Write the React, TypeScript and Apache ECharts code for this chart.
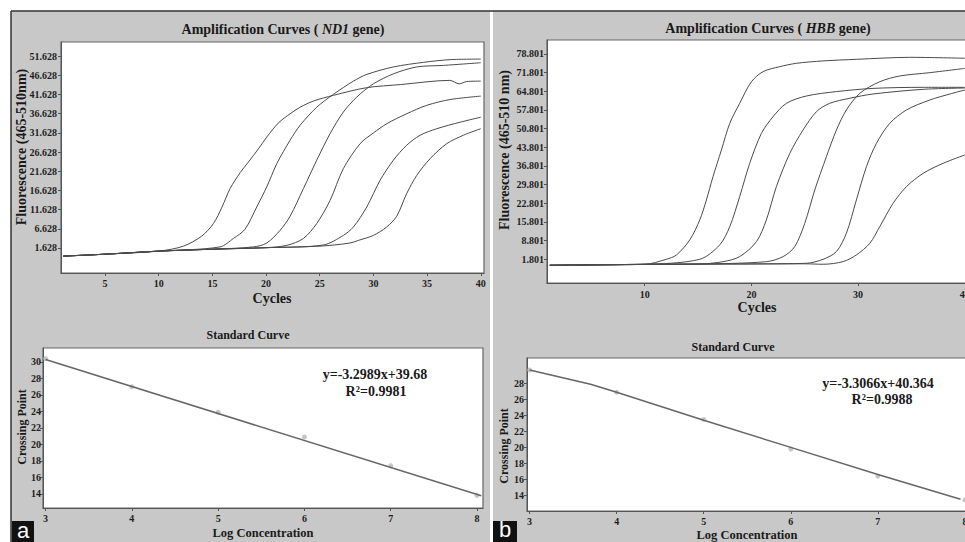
import React, { useEffect, useRef } from "react";
import * as echarts from "echarts";

// ---------- Amplification curves, ND1 gene (panel a) ----------
const ND1_BASELINE: number[][] = [[1.1, -0.5], [5, 0], [10, 0.8], [15, 1.3], [20, 1.7], [25, 2.1]];
const ND1_CURVE_1: number[][] = [[12.3, 2.1], [14.0, 4.7], [15.1, 8.0], [15.9, 12.3], [16.65, 17.1], [17.6, 21.3], [18.35, 24.0], [19.3, 27.5], [20.06, 30.5], [21.15, 34.2], [22.24, 36.6], [23.17, 38.3], [24.4, 39.9], [26.27, 41.4], [29.38, 43.4], [32.5, 44.2], [37.1, 45.3], [38.0, 44.4], [38.7, 45.0], [40, 45.1]];
const ND1_CURVE_2: number[][] = [[15.71, 1.9], [16.96, 4.1], [18.04, 6.5], [19.13, 12.3], [20.06, 17.5], [21.0, 23.6], [22.24, 29.7], [23.17, 33.6], [24.72, 38.3], [26.27, 41.65], [28.14, 45.1], [29.38, 46.85], [31.86, 48.8], [34.66, 50.0], [37.14, 50.7], [40, 50.85]];
const ND1_CURVE_3: number[][] = [[18.82, 1.9], [20.06, 2.9], [21.3, 6.2], [22.24, 9.9], [23.48, 17.1], [24.72, 24.5], [25.96, 31.4], [27.2, 37.05], [28.45, 40.95], [30.0, 44.4], [31.86, 47.0], [34.04, 48.8], [36.52, 49.2], [40, 49.9]];
const ND1_CURVE_4: number[][] = [[21.93, 2.3], [23.48, 4.1], [24.72, 8.0], [25.96, 14.0], [27.2, 22.3], [28.76, 28.8], [30.0, 31.6], [31.24, 34.0], [33.1, 36.6], [34.97, 38.8], [37.14, 40.3], [40, 41.2]];
const ND1_CURVE_5: number[][] = [[25.34, 2.4], [27.2, 4.9], [28.14, 7.1], [29.38, 12.3], [30.62, 19.25], [31.86, 24.5], [33.1, 28.4], [34.35, 31.0], [35.9, 32.7], [38.07, 34.4], [40, 35.7]];
const ND1_CURVE_6: number[][] = [[27.8, 2.9], [28.6, 3.6], [30.0, 4.9], [31.24, 7.1], [32.17, 9.9], [33.1, 15.8], [34.04, 20.55], [35.28, 24.9], [36.83, 28.8], [38.38, 31.0], [40, 32.7]];
const ND1_Y_TICKS = [1.628, 6.628, 11.628, 16.628, 21.628, 26.628, 31.628, 36.628, 41.628, 46.628, 51.628];
const ND1_X_TICKS = [5, 10, 15, 20, 25, 30, 35, 40];

// ---------- Amplification curves, HBB gene (panel b) ----------
const HBB_BASELINE: number[][] = [[1.1, -0.45], [5, -0.3], [10, -0.1], [15, 0], [20, 0.05], [25, 0.1]];
const HBB_CURVE_1: number[][] = [[12.03, 1.8], [12.97, 3.4], [14.22, 9.05], [15.16, 16.55], [15.78, 24.05], [16.4, 32.8], [17.19, 42.8], [17.97, 52.8], [18.9, 60.3], [20.0, 68.4], [21.1, 72.2], [22.66, 74.05], [24.2, 75.3], [26.7, 76.2], [29.84, 76.8], [34.84, 77.55], [40, 77.2]];
const HBB_CURVE_2: number[][] = [[15.16, 1.8], [17.03, 7.2], [17.97, 14.05], [18.9, 25.3], [19.84, 37.8], [20.94, 49.05], [22.03, 55.3], [23.28, 60.3], [25.16, 63.05], [27.97, 64.7], [31.4, 65.9], [36.1, 66.3], [40, 66.3]];
const HBB_CURVE_3: number[][] = [[17.34, 0.9], [18.9, 2.8], [20.47, 8.4], [21.4, 16.55], [22.34, 29.05], [23.6, 41.55], [24.84, 50.3], [26.1, 57.2], [27.34, 60.3], [29.22, 62.2], [31.4, 63.8], [36.1, 65.55], [40, 66.05]];
const HBB_CURVE_4: number[][] = [[21.4, 0.9], [22.97, 2.8], [24.06, 6.55], [25.0, 15.3], [25.94, 27.8], [27.03, 40.3], [27.97, 50.3], [28.9, 57.8], [30.16, 64.05], [32.03, 68.4], [33.9, 70.55], [36.72, 71.8], [40, 73.4]];
const HBB_CURVE_5: number[][] = [[25.16, 0.3], [26.72, 1.8], [27.97, 4.7], [28.9, 11.55], [29.84, 24.05], [30.78, 36.55], [31.72, 45.3], [32.97, 52.8], [34.53, 57.8], [36.72, 61.55], [38.6, 63.8], [40, 65.3]];
const HBB_CURVE_6: number[][] = [[26.72, -0.07], [28.6, 0.93], [29.84, 3.43], [31.1, 7.8], [32.03, 14.05], [33.28, 22.8], [34.53, 29.05], [36.1, 34.05], [37.97, 37.8], [40, 40.93]];
const HBB_Y_TICKS = [1.801, 8.801, 15.801, 22.801, 29.801, 36.801, 43.801, 50.801, 57.801, 64.801, 71.801, 78.801];
const HBB_X_TICKS = [10, 20, 30, 40];

// ---------- Standard curves ----------
const STD_A_POINTS: number[][] = [[3, 30.4], [4, 27.0], [5, 23.9], [6, 20.9], [7, 17.4], [8, 13.8]];
const STD_A_LINE: number[][] = [[3, 30.3], [8.05, 13.75]];
const STD_A_Y_TICKS = [14, 16, 18, 20, 22, 24, 26, 28, 30];
const STD_B_POINTS: number[][] = [[3, 29.7], [4, 26.9], [5, 23.5], [6, 19.8], [7, 16.4], [8, 13.4]];
const STD_B_LINE: number[][] = [[3, 29.7], [3.7, 27.9], [4, 26.9], [5, 23.4], [6, 20.0], [7, 16.6], [7.95, 13.5]];
const STD_B_Y_TICKS = [14, 16, 18, 20, 22, 24, 26, 28];
const STD_X_TICKS = [3, 4, 5, 6, 7, 8];

const SERIF = "'Liberation Serif', 'Times New Roman', serif";
const PANEL_GRAY = "#c8c8c8";
const CURVE_COLOR = "#4a4a4a";

function withBase(base: number[][], curve: number[][]) {
  return base.filter((p) => p[0] < curve[0][0] - 1.5).concat(curve);
}

function valueAxis(gridIndex: number, min: number, max: number, ticks: number[], digits: number, fontSize: number, margin: number) {
  return {
    type: "value",
    gridIndex,
    min,
    max,
    axisLine: { show: true, onZero: false, lineStyle: { color: "#555", width: 1 } },
    axisTick: { show: true, customValues: ticks, length: 3, lineStyle: { color: "#555" } },
    axisLabel: {
      customValues: ticks,
      formatter: (v: number) => v.toFixed(digits),
      fontFamily: SERIF,
      fontWeight: "bold",
      fontSize,
      color: "#1e1e1e",
      margin,
    },
    splitLine: { show: false },
  };
}

function curveSeries(data: number[][], axisIndex: number) {
  return {
    type: "line",
    xAxisIndex: axisIndex,
    yAxisIndex: axisIndex,
    data,
    smooth: 0.3,
    showSymbol: false,
    lineStyle: { color: CURVE_COLOR, width: 1 },
    silent: true,
  };
}

function text(x: number, y: number, content: string, size: number, extra: any = {}) {
  return {
    type: "text",
    x,
    y,
    ...extra,
    style: {
      text: content,
      fontFamily: SERIF,
      fontWeight: "bold",
      fontSize: size,
      fill: "#1a1a1a",
      align: "center",
      verticalAlign: "middle",
      ...(extra.style || {}),
    },
  };
}

function titleText(x: number, y: number, gene: string) {
  const base = { fontFamily: SERIF, fontWeight: "bold", fontSize: 14, fill: "#1a1a1a" };
  return {
    type: "text",
    x,
    y,
    style: {
      text: `{b|Amplification Curves ( }{i|${gene}}{b| gene)}`,
      align: "center",
      verticalAlign: "middle",
      rich: { b: base, i: { ...base, fontStyle: "italic" } },
    },
  };
}

export default function App() {
  const ref = useRef<HTMLDivElement>(null);
  useEffect(() => {
    if (!ref.current) return;
    const chart = echarts.init(ref.current, null, { renderer: "svg" });
    const option: any = {
      animation: false,
      backgroundColor: "#ffffff",
      grid: [
        { left: 61, top: 42, width: 423, height: 231, show: true, backgroundColor: "#fff", borderColor: "#666", borderWidth: 1.2 },
        { left: 547, top: 40, width: 421, height: 243, show: true, backgroundColor: "#fff", borderColor: "#666", borderWidth: 1.2 },
        { left: 43, top: 348, width: 440, height: 160, show: true, backgroundColor: "#fff", borderColor: "#666", borderWidth: 1.2 },
        { left: 527, top: 358, width: 444, height: 153, show: true, backgroundColor: "#fff", borderColor: "#666", borderWidth: 1.2 },
      ],
      xAxis: [
        valueAxis(0, 0.9, 40.3, ND1_X_TICKS, 0, 10, 5),
        valueAxis(1, 0.84, 40.3, HBB_X_TICKS, 0, 10, 6),
        valueAxis(2, 2.97, 8.07, STD_X_TICKS, 0, 10, 5),
        valueAxis(3, 2.97, 8.07, STD_X_TICKS, 0, 10, 5),
      ],
      yAxis: [
        valueAxis(0, -4.9, 55.3, ND1_Y_TICKS, 3, 10, 4),
        valueAxis(1, -7.1, 84.05, HBB_Y_TICKS, 3, 10, 3),
        valueAxis(2, 12.27, 31.7, STD_A_Y_TICKS, 0, 10, 2),
        valueAxis(3, 12.03, 31.2, STD_B_Y_TICKS, 0, 10, 3),
      ],
      series: [
        curveSeries(withBase(ND1_BASELINE, ND1_CURVE_1), 0),
        curveSeries(withBase(ND1_BASELINE, ND1_CURVE_2), 0),
        curveSeries(withBase(ND1_BASELINE, ND1_CURVE_3), 0),
        curveSeries(withBase(ND1_BASELINE, ND1_CURVE_4), 0),
        curveSeries(withBase(ND1_BASELINE, ND1_CURVE_5), 0),
        curveSeries(withBase(ND1_BASELINE, ND1_CURVE_6), 0),
        curveSeries(withBase(HBB_BASELINE, HBB_CURVE_1), 1),
        curveSeries(withBase(HBB_BASELINE, HBB_CURVE_2), 1),
        curveSeries(withBase(HBB_BASELINE, HBB_CURVE_3), 1),
        curveSeries(withBase(HBB_BASELINE, HBB_CURVE_4), 1),
        curveSeries(withBase(HBB_BASELINE, HBB_CURVE_5), 1),
        curveSeries(withBase(HBB_BASELINE, HBB_CURVE_6), 1),
        {
          type: "line", xAxisIndex: 2, yAxisIndex: 2, data: STD_A_LINE, showSymbol: false,
          lineStyle: { color: "#666", width: 1.5 }, silent: true,
        },
        {
          type: "scatter", xAxisIndex: 2, yAxisIndex: 2, data: STD_A_POINTS, symbolSize: 5,
          itemStyle: { color: "#b8b8b8" }, silent: true,
        },
        {
          type: "line", xAxisIndex: 3, yAxisIndex: 3, data: STD_B_LINE, showSymbol: false,
          lineStyle: { color: "#666", width: 1.5 }, silent: true,
        },
        {
          type: "scatter", xAxisIndex: 3, yAxisIndex: 3, data: STD_B_POINTS, symbolSize: 5,
          itemStyle: { color: "#b8b8b8" }, silent: true,
        },
      ],
      graphic: {
        elements: [
          { type: "rect", z: -10, shape: { x: 11, y: 11, width: 479, height: 531 }, style: { fill: PANEL_GRAY } },
          { type: "rect", z: -10, shape: { x: 493, y: 11, width: 500, height: 531 }, style: { fill: PANEL_GRAY } },
          { type: "line", z: -9, shape: { x1: 11, y1: 11, x2: 990, y2: 11 }, style: { stroke: "#333", lineWidth: 1.5 } },
          { type: "line", z: -9, shape: { x1: 11, y1: 11, x2: 11, y2: 542 }, style: { stroke: "#333", lineWidth: 1.5 } },
          titleText(283, 29, "ND1"),
          titleText(768, 28, "HBB"),
          text(272, 298, "Cycles", 14),
          text(757, 307, "Cycles", 14),
          text(21, 147, "Fluorescence (465-510nm)", 14, { rotation: Math.PI / 2 }),
          text(504, 150, "Fluorescence (465-510 nm)", 14, { rotation: Math.PI / 2 }),
          text(248, 335, "Standard Curve", 12),
          text(733, 347, "Standard Curve", 12),
          text(375, 374, "y=-3.2989x+39.68", 14),
          text(376, 391, "R²=0.9981", 14),
          text(878, 383, "y=-3.3066x+40.364", 14),
          text(882, 399, "R²=0.9988", 14),
          text(263, 533, "Log Concentration", 12.5),
          text(747, 535, "Log Concentration", 12.5),
          text(22, 427, "Crossing Point", 12, { rotation: Math.PI / 2 }),
          text(504, 446, "Crossing Point", 12, { rotation: Math.PI / 2 }),
          { type: "rect", shape: { x: 12, y: 521, width: 22, height: 21 }, style: { fill: "#111" } },
          { type: "rect", shape: { x: 493, y: 521, width: 24, height: 21 }, style: { fill: "#111" } },
          text(23, 530, "a", 22, { style: { fontFamily: "'Liberation Sans', Arial, sans-serif", fontWeight: "normal", fill: "#fff" } }),
          text(505, 529, "b", 22, { style: { fontFamily: "'Liberation Sans', Arial, sans-serif", fontWeight: "normal", fill: "#fff" } }),
        ],
      },
    };
    chart.setOption(option);
    return () => chart.dispose();
  }, []);
  return (
    <div style={{ position: "fixed", left: 0, top: 0, width: 965, height: 542, overflow: "hidden", background: "#fff" }}>
      <div ref={ref} style={{ width: 990, height: 542 }} />
    </div>
  );
}
